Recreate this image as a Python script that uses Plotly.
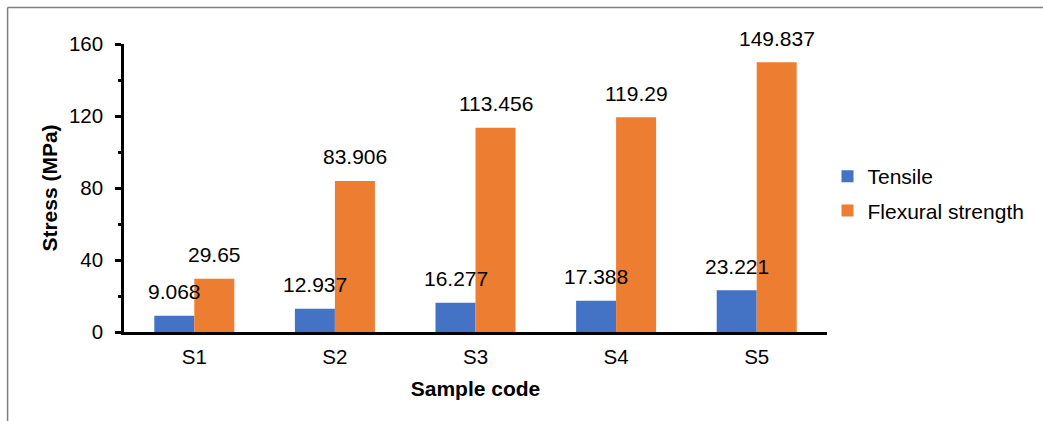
import plotly.graph_objects as go

categories = ["S1", "S2", "S3", "S4", "S5"]
tensile = [9.068, 12.937, 16.277, 17.388, 23.221]
flexural = [29.65, 83.906, 113.456, 119.29, 149.837]
tensile_labels = ["9.068", "12.937", "16.277", "17.388", "23.221"]
flexural_labels = ["29.65", "83.906", "113.456", "119.29", "149.837"]
y_ticks = [0, 40, 80, 120, 160]

FONT = "Liberation Sans, Arial, sans-serif"
BLUE = "#4472C4"
ORANGE = "#ED7D31"

fig = go.Figure()
fig.add_trace(go.Bar(x=categories, y=tensile, name="Tensile",
                     marker=dict(color=BLUE, line=dict(width=0)),
                     legendgroup="a"))
fig.add_trace(go.Bar(x=categories, y=flexural, name="Flexural strength",
                     marker=dict(color=ORANGE, line=dict(width=0)),
                     legendgroup="b"))

annotations = []
for c, v, t in zip(categories, tensile, tensile_labels):
    annotations.append(dict(x=c, y=v, text=t, xshift=-20, yshift=24,
                            showarrow=False, yanchor="middle", xanchor="center",
                            font=dict(family=FONT, size=21, color="black")))
for c, v, t in zip(categories, flexural, flexural_labels):
    annotations.append(dict(x=c, y=v, text=t, xshift=20, yshift=24,
                            showarrow=False, yanchor="middle", xanchor="center",
                            font=dict(family=FONT, size=21, color="black")))

L, R, T, B = 124, 215.5, 44, 89
W, H = 1043, 421
pw = W - L - R
ph = H - T - B

def px_to_paper_x(px):
    return (px - L) / pw

def px_to_paper_y(py):
    return (H - B - py) / ph

shapes = [
    dict(type="line", xref="paper", yref="paper",
         x0=px_to_paper_x(7.5), x1=px_to_paper_x(1060),
         y0=px_to_paper_y(7.5), y1=px_to_paper_y(7.5),
         line=dict(color="#7f7f7f", width=1.5), layer="above"),
    dict(type="line", xref="paper", yref="paper",
         x0=px_to_paper_x(7.5), x1=px_to_paper_x(7.5),
         y0=px_to_paper_y(7.5), y1=px_to_paper_y(440),
         line=dict(color="#7f7f7f", width=1.5), layer="above"),
]

fig.update_layout(
    width=W, height=H,
    margin=dict(l=L, r=R, t=T, b=B, autoexpand=False),
    paper_bgcolor="white", plot_bgcolor="white",
    barmode="group", bargap=0.431, bargroupgap=0,
    font=dict(family=FONT, size=21, color="black"),
    showlegend=True,
    legend=dict(x=px_to_paper_x(828), xanchor="left",
                y=px_to_paper_y(156), yanchor="top",
                font=dict(family=FONT, size=21, color="black"),
                tracegroupgap=4, bgcolor="rgba(0,0,0,0)"),
    annotations=annotations,
    shapes=shapes,
)

fig.update_xaxes(
    showline=True, linecolor="black", linewidth=2.5,
    ticks="", showgrid=False, zeroline=False,
    tickfont=dict(family=FONT, size=20.5, color="black"),
    ticklabelstandoff=5,
    title=dict(text="<b>Sample code</b>", font=dict(family=FONT, size=21, color="black"),
               standoff=14),
)
fig.update_yaxes(
    range=[0, 160], tickvals=y_ticks, ticktext=[str(v) for v in y_ticks],
    showline=True, linecolor="black", linewidth=2.5,
    ticks="outside", ticklen=6, tickwidth=2.5, tickcolor="black",
    minor=dict(dtick=20, ticks="outside", ticklen=3, tickwidth=2.5, tickcolor="black", showgrid=False),
    showgrid=False, zeroline=False,
    tickfont=dict(family=FONT, size=20.5, color="black"),
    ticklabelstandoff=8,
    title=dict(text="<b>Stress (MPa)</b>", font=dict(family=FONT, size=21, color="black"),
               standoff=6),
)

fig.write_html("out.html",
               config={"displayModeBar": False},
               post_script="document.body.style.margin='0';document.body.style.overflow='hidden';")
